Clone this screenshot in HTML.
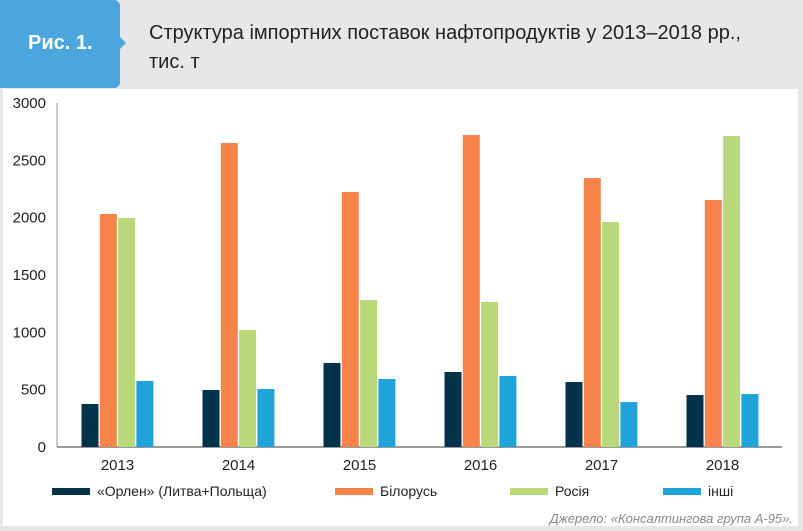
<!DOCTYPE html>
<html><head><meta charset="utf-8"><style>
body{margin:0;width:803px;height:531px;background:#e6e7e8;font-family:"Liberation Sans",sans-serif;position:relative;overflow:hidden}
.t{position:absolute}
</style></head><body>
<div class="t" style="left:0;top:0;width:120px;height:88px;background:#4aa6dc;border-radius:0 6px 6px 0;"></div>
<div class="t" style="left:120px;top:37px;width:0;height:0;border-top:6px solid transparent;border-bottom:6px solid transparent;border-left:6px solid #4aa6dc"></div>
<div class="t" style="left:28px;top:32px;color:#fff;font-weight:bold;font-size:20px">Рис. 1.</div>
<div class="t" style="left:149px;top:19px;color:#222;font-size:20px;line-height:29px">Структура імпортних поставок нафтопродуктів у 2013–2018 рр.,<br>тис. т</div>
<div class="t" style="left:3px;top:89px;width:795px;height:437px;background:#fff"></div>
<svg class="t" style="left:0;top:0" width="803" height="531">
<g id="g"></g></svg>
<div class="t" style="right:10px;top:511px;color:#888;font-style:italic;font-size:13px">Джерело: «Консалтингова група А-95».</div>
<script>
const years=["2013","2014","2015","2016","2017","2018"];
const orlen=[375,497,733,654,567,453];
const belarus=[2032,2651,2224,2721,2346,2154];
const russia=[1997,1020,1282,1265,1962,2712];
const others=[576,506,593,619,392,462];
const ticks=[0,500,1000,1500,2000,2500,3000];
const seriesNames=["«Орлен» (Литва+Польща)","Білорусь","Росія","інші"];
const colors=["#03324b","#f5834a","#b9d87a","#1fa3d8"];
const series=[orlen,belarus,russia,others];
const ns="http://www.w3.org/2000/svg",g=document.getElementById('g');
const y0=447,yTop=103,maxV=3000;
const y=v=>y0-(v/maxV)*(y0-yTop);
const x0=57,band=121;
const xc=i=>x0+band*(i+0.5);
function mk(t,a,txt){const e=document.createElementNS(ns,t);for(const k in a)e.setAttribute(k,a[k]);if(txt!=null)e.textContent=txt;g.appendChild(e);return e;}
ticks.forEach(t=>{const e=mk('text',{x:46,y:y(t)+5,'text-anchor':'end','font-size':15,fill:'#222'},t);

});
const ax=mk('line',{x1:x0,y1:yTop,x2:x0,y2:y0,stroke:'#bbb','stroke-width':1.5});


const bl=mk('line',{x1:x0,y1:y0,x2:782,y2:y0,stroke:'#333','stroke-width':1});


const bw=17,step=18.3;
years.forEach((yr,i)=>{
 series.forEach((s,j)=>{
  const bx=xc(i)-2*step+j*step+0.6;
  const r=mk('rect',{x:bx,y:y(s[i]),width:bw,height:y0-y(s[i]),fill:colors[j]});
  
  
 });
 const l=mk('text',{x:xc(i),y:470,'text-anchor':'middle','font-size':15,fill:'#222'},yr);
 
 
});
const lx=[52,335,510,663];
seriesNames.forEach((n,j)=>{
 const r=mk('rect',{x:lx[j],y:488,width:38,height:7,fill:colors[j]});
 
 
 const t=mk('text',{x:lx[j]+45,y:496,'font-size':14,fill:'#222'},n);
 
 
});
</script>
</body></html>
